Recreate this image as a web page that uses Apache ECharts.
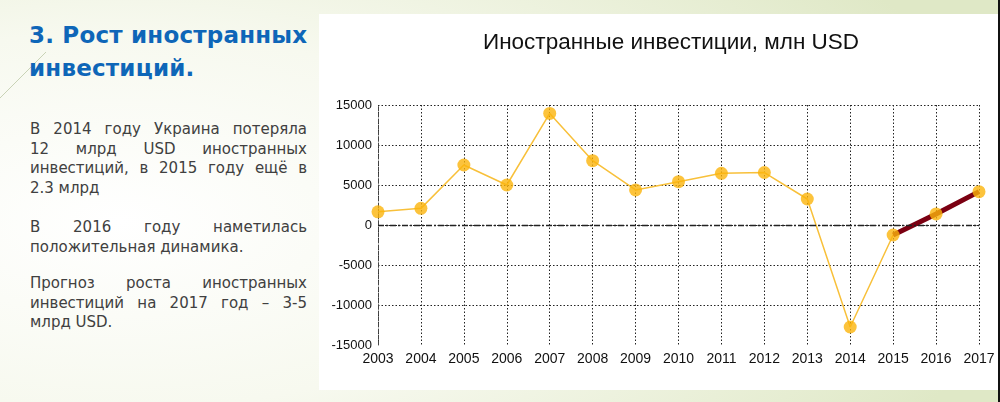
<!DOCTYPE html>
<html>
<head>
<meta charset="utf-8">
<script src="https://cdn.jsdelivr.net/npm/echarts@6/dist/echarts.min.js"></script>
<style>
  html, body { margin: 0; padding: 0; }
  body {
    width: 1000px; height: 402px; overflow: hidden; position: relative;
    background: radial-gradient(ellipse 900px 420px at 12% 55%, #ffffff 0%, #f7f9ef 45%, #e6edd2 85%, #dfe8c6 100%);
  }
  #decor { position: absolute; left: 0; top: 0; }
  #headline {
    position: absolute; left: 29px; top: 19px; width: 290px;
    font-family: "DejaVu Sans", sans-serif; font-weight: bold;
    font-size: 23px; line-height: 33px; color: #0e66b8; letter-spacing: 0.2px;
  }
  .para { position: absolute; left: 30px; width: 277px;
    font-family: "DejaVu Sans", sans-serif; font-size: 15px; line-height: 19.7px; color: #404040; }
  .j { text-align: justify; text-align-last: justify; white-space: nowrap; }
  .l { text-align: left; white-space: nowrap; }
  #panel { position: absolute; left: 319px; top: 14px; width: 679px; height: 376px; background: #ffffff; }
  #edge { position: absolute; left: 998px; top: 0; width: 2px; height: 402px; background: #111; }
  #chart { width: 679px; height: 376px; }
</style>
</head>
<body>
<svg id="decor" width="60" height="110"><line x1="0" y1="98" x2="46" y2="52" stroke="#c9d3b6" stroke-width="1"/></svg>
<div id="headline">3. Рост иностранных<br>инвестиций.</div>
<div class="para" style="top:120px">
  <div class="j">В 2014 году Украина потеряла</div>
  <div class="j">12 млрд USD иностранных</div>
  <div class="j">инвестиций, в 2015 году ещё в</div>
  <div class="l">2.3 млрд</div>
</div>
<div class="para" style="top:218px">
  <div class="j">В 2016 году наметилась</div>
  <div class="l">положительная динамика.</div>
</div>
<div class="para" style="top:274px">
  <div class="j">Прогноз роста иностранных</div>
  <div class="j">инвестиций на 2017 год – 3-5</div>
  <div class="l">млрд USD.</div>
</div>
<div id="panel"><div id="chart"></div></div>
<div id="edge"></div>
<script>
const chartTitle = 'Иностранные инвестиции, млн USD';
const years = ['2003','2004','2005','2006','2007','2008','2009','2010','2011','2012','2013','2014','2015','2016','2017'];
const investments = [1650, 2080, 7500, 5000, 13950, 8040, 4380, 5420, 6460, 6560, 3250, -12750, -1250, 1380, 4170];
const forecastFrom = '2015';
const yTicks = { min: -15000, max: 15000, interval: 5000 };

const fIdx = years.indexOf(forecastFrom);
const history = investments.map((v, i) => i <= fIdx ? v : null);
const forecast = investments.map((v, i) => i >= fIdx ? v : null);

const chart = echarts.init(document.getElementById('chart'), null, { renderer: 'canvas' });
const axisFont = { fontFamily: 'Liberation Sans, Arial, sans-serif', fontSize: 13, color: '#111' };
chart.setOption({
  animation: false,
  title: {
    text: chartTitle, left: 159, top: 12,
    textStyle: { fontFamily: 'Liberation Sans, Arial, sans-serif', fontSize: 22.5, fontWeight: 'normal', color: '#111' }
  },
  grid: { left: 59, right: 19, top: 91, bottom: 45 },
  xAxis: {
    type: 'category', data: years, boundaryGap: false,
    axisLine: { show: false, onZero: false },
    axisTick: { show: false },
    axisLabel: Object.assign({ margin: 7 }, axisFont, { fontSize: 14 }),
    splitLine: { show: true, lineStyle: { color: '#222', width: 1, type: [1.5, 2] } }
  },
  yAxis: {
    type: 'value', min: yTicks.min, max: yTicks.max, interval: yTicks.interval,
    axisLine: { show: true, lineStyle: { color: '#444', width: 1, type: [4, 2] } },
    axisTick: { show: false },
    axisLabel: Object.assign({ margin: 6, formatter: v => String(v) }, axisFont),
    splitLine: { show: true, showMinLine: false, lineStyle: { color: '#222', width: 1, type: [1.5, 2] } }
  },
  series: [
    {
      type: 'line', data: history, showSymbol: false, z: 2,
      lineStyle: { color: '#f8c03a', width: 1.5 },
      markLine: {
        silent: true, symbol: 'none', label: { show: false },
        lineStyle: { color: '#222', width: 1.4, type: [6, 2, 2, 2] },
        data: [{ yAxis: 0 }]
      }
    },
    {
      type: 'line', data: forecast, showSymbol: false, z: 3,
      lineStyle: { color: '#7b0012', width: 5 }
    },
    {
      type: 'scatter', data: investments, symbol: 'circle', symbolSize: 13, z: 4,
      itemStyle: { color: '#fbb40b' }
    }
  ]
});
</script>
</body>
</html>
